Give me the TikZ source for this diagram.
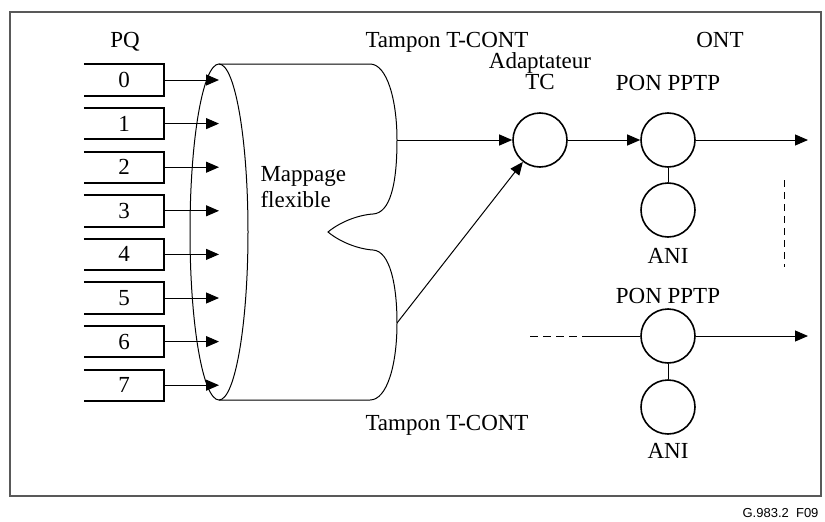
\documentclass[tikz,border=0pt]{standalone}
\usepackage{fontspec}
\setmainfont{Liberation Serif}
\newfontfamily\figfont{Liberation Sans}
\usetikzlibrary{arrows.meta}

\begin{document}
\begin{tikzpicture}[x=1pt, y=-1pt, >={Triangle[length=13pt,width=11pt]},
    font=\fontsize{23}{26}\selectfont,
    pq/.style={minimum width=80pt, minimum height=31pt, inner sep=0pt},
    entity/.style={circle, draw, line width=1.6pt, minimum size=54pt, inner sep=0pt},
    link/.style={line width=1pt}]
    \useasboundingbox (0,0) rectangle (825,522);
    \draw[line width=1.3pt, black!65] (10,12) rectangle (821,496);

    \node (pqlab) at (125,47) [anchor=base] {PQ};
    \node (buftop) at (447,47) [anchor=base] {Tampon T-CONT};
    \node (bufbot) at (447,430) [anchor=base] {Tampon T-CONT};
    \node (ontlab) at (720,47) [anchor=base] {ONT};

    \foreach \i in {0,...,7} {
        \node[pq] (q\i) at (124,80+43.6*\i) {\i};
        \draw[line width=2pt] (q\i.north west) -- (q\i.north east) -- (q\i.south east) -- (q\i.south west);
        \coordinate (in\i) at (219,80+43.6*\i);
        \draw[link,->] (q\i.east) -- (in\i);
    }

    \coordinate (outA) at (397,140);
    \coordinate (outB) at (397,323);
    \draw[link] (219,232) ellipse (29pt and 168pt);
    \draw[link] (219,64) -- (370,64)
        .. controls (387,64) and (397,100) .. (outA)
        .. controls (397,185) and (390,213) .. (373,214)
        .. controls (358,215) and (340,222) .. (328,232)
        .. controls (340,242) and (358,249) .. (373,250)
        .. controls (390,251) and (397,285) .. (outB)
        .. controls (397,365) and (387,400) .. (370,400)
        -- (219,400);
    \node (maplab) at (257,187) [anchor=west, align=left] {Mappage\\flexible};

    \node[entity] (tc) at (540,140) {};
    \node[entity] (pon1) at (668,140) {};
    \node[entity] (ani1) at (668,210) {};
    \node[entity] (pon2) at (668,336) {};
    \node[entity] (ani2) at (668,407) {};
    \node (tclab) at (540,92) [anchor=south, align=center, font=\fontsize{23}{20}\selectfont, inner sep=2pt] {Adaptateur\\TC};
    \node (pon1lab) at (668,90) [anchor=base] {PON PPTP};
    \node (ani1lab) at (668,263) [anchor=base] {ANI};
    \node (pon2lab) at (668,303) [anchor=base] {PON PPTP};
    \node (ani2lab) at (668,458) [anchor=base] {ANI};

    \coordinate (end1) at (808,140);
    \coordinate (end2) at (808,336);
    \coordinate (feed) at (530,336);
    \coordinate (feedmid) at (583,336);
    \coordinate (dotA) at (784,180);
    \coordinate (dotB) at (784,267);

    \draw[link,->] (outA) -- (tc);
    \draw[link,->] (outB) -- (tc);
    \draw[link,->] (tc) -- (pon1);
    \draw[link,->] (pon1) -- (end1);
    \draw[link] (pon1) -- (ani1);
    \draw[link,->] (pon2) -- (end2);
    \draw[link] (pon2) -- (ani2);
    \draw[link, dash pattern=on 8pt off 5pt] (feed) -- (feedmid);
    \draw[link] (feedmid) -- (pon2);
    \draw[link, dash pattern=on 7pt off 5pt] (dotA) -- (dotB);

    \node (figref) at (822,517) [anchor=base east, font=\figfont\fontsize{13}{15}\selectfont] {G.983.2\ \ F09};
\end{tikzpicture}
\end{document}
